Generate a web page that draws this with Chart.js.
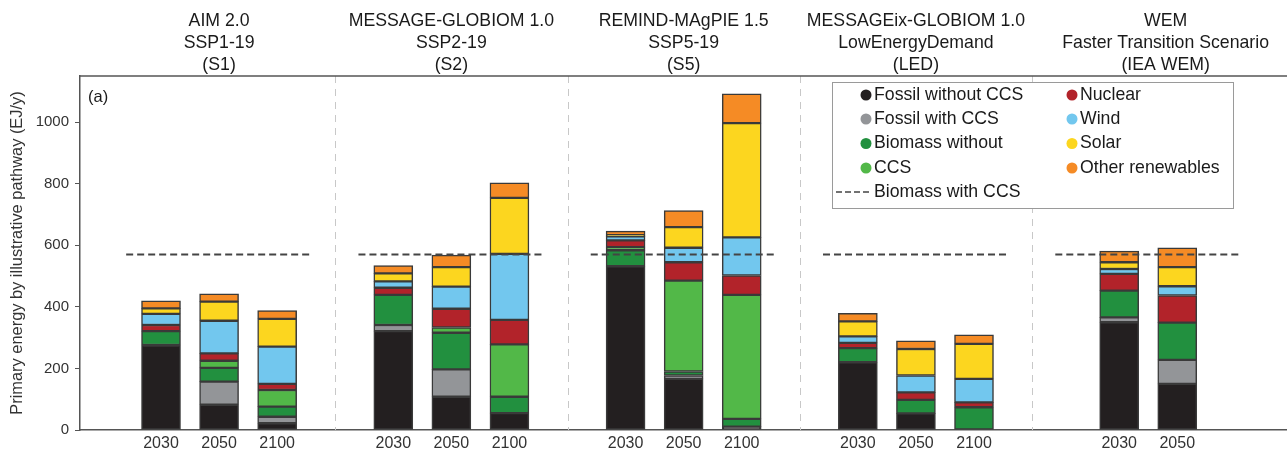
<!DOCTYPE html>
<html>
<head>
<meta charset="utf-8">
<script src="https://cdn.jsdelivr.net/npm/chart.js@4.4.1/dist/chart.umd.min.js"></script>
<style>
  html, body { margin: 0; padding: 0; background: #fff; }
  #wrap { width: 1287px; height: 453px; }
</style>
</head>
<body>
<div id="wrap"><canvas id="energy-chart"></canvas></div>
<script>
  const models = ['AIM 2.0', 'MESSAGE-GLOBIOM 1.0', 'REMIND-MAgPIE 1.5', 'MESSAGEix-GLOBIOM 1.0', 'WEM'];
  const scenarios = ['SSP1-19', 'SSP2-19', 'SSP5-19', 'LowEnergyDemand', 'Faster Transition Scenario'];
  const shortNames = ['(S1)', '(S2)', '(S5)', '(LED)', '(IEA WEM)'];
  const pathwayYears = [
    ['2030', '2050', '2100'],
    ['2030', '2050', '2100'],
    ['2030', '2050', '2100'],
    ['2030', '2050', '2100'],
    ['2030', '2050'],
  ];

  // EJ/y, one value per bar, pathway by pathway
  const fossil     = [276,  82,  22, 321, 108,  55, 532, 166,  11, 220,  54,   0, 350, 150];
  const fossilCcs  = [  0,  75,  21,  20,  89,   0,   0,  11,   0,   0,   0,   0,  16,  78];
  const bioNoCcs   = [ 45,  45,  33,  98, 119,  53,  52,  13,  25,  46,  44,  74,  87, 121];
  const bioCcs     = [  0,  23,  54,   0,  17, 170,  10, 295, 403,   0,   0,   0,   0,   0];
  const nuclear    = [ 20,  24,  20,  23,  61,  80,  22,  60,  63,  17,  24,  16,  54,  88];
  const wind       = [ 36, 106, 121,  21,  72, 214,  13,  47, 124,  21,  55,  76,  16,  30];
  const solar      = [ 18,  62,  90,  26,  63, 182,   4,  67, 371,  49,  86, 114,  22,  62];
  const otherRen   = [ 25,  25,  27,  25,  39,  49,  13,  54,  95,  26,  27,  29,  36,  63];
  const bioCcsLine = [570, 570, 570, 570, 570];

  const yTicks = [0, 200, 400, 600, 800, 1000];

  const FONT = "'Liberation Sans', Arial, sans-serif";

  // each pathway takes 4 slots on the x axis, separators sit between them
  const slotX = [];
  const tickText = {};
  const groupCenter = [];
  pathwayYears.forEach((ys, g) => {
    const c = 4 * g + 1;
    groupCenter.push(c);
    ys.forEach((y, i) => {
      const x = c + i - (ys.length - 1) / 2;
      slotX.push(x);
      tickText[x] = y;
    });
  });

  function toPoints(values) {
    return values.map((v, i) => ({ x: slotX[i], y: v === 0 ? null : v }));
  }

  const refPoints = [];
  bioCcsLine.forEach((v, g) => {
    const c = groupCenter[g];
    refPoints.push({ x: c - 1.6, y: v }, { x: c + 1.6, y: v }, { x: c + 1.8, y: null });
  });

  const series = [
    ['Fossil without CCS', fossil, '#231f20'],
    ['Fossil with CCS', fossilCcs, '#939598'],
    ['Biomass without', bioNoCcs, '#22903f'],
    ['CCS', bioCcs, '#52b848'],
    ['Nuclear', nuclear, '#b2232a'],
    ['Wind', wind, '#72c7ee'],
    ['Solar', solar, '#fcd61f'],
    ['Other renewables', otherRen, '#f58b25'],
  ];

  const barSets = series.map(([label, values, color]) => ({
    type: 'bar',
    label: label,
    data: toPoints(values),
    backgroundColor: color,
    borderColor: '#3a3a3a',
    borderWidth: 1.5,
    borderSkipped: false,
    barThickness: 39,
  }));

  const lineSet = {
    type: 'line',
    label: 'Biomass with CCS',
    data: refPoints,
    borderColor: '#444',
    borderWidth: 2,
    borderDash: [7, 4],
    pointRadius: 0,
    spanGaps: false,
    stack: 'ref',
    order: -1,
  };

  const decor = {
    id: 'decor',
    beforeDatasetsDraw(chart) {
      const { ctx, chartArea, scales: { x } } = chart;
      ctx.save();
      ctx.strokeStyle = '#c8c8c8';
      ctx.lineWidth = 1;
      ctx.setLineDash([7, 6]);
      for (let g = 1; g < groupCenter.length; g++) {
        const px = Math.round(x.getPixelForValue(4 * g - 1)) + 0.5;
        ctx.beginPath();
        ctx.moveTo(px, chartArea.top);
        ctx.lineTo(px, chartArea.bottom);
        ctx.stroke();
      }
      ctx.restore();
    },
    afterDraw(chart) {
      const { ctx, chartArea, scales: { x } } = chart;
      ctx.save();

      // frame line along the top
      ctx.strokeStyle = '#555';
      ctx.lineWidth = 1.5;
      ctx.beginPath();
      ctx.moveTo(chartArea.left, chartArea.top);
      ctx.lineTo(chart.width, chartArea.top);
      ctx.stroke();

      // pathway titles
      ctx.fillStyle = '#1a1a1a';
      ctx.font = '17.7px ' + FONT;
      ctx.textAlign = 'center';
      ctx.textBaseline = 'middle';
      groupCenter.forEach((c, g) => {
        const shift = g === groupCenter.length - 1 ? 0.3 : 0;
        const px = x.getPixelForValue(c + shift);
        ctx.fillText(models[g], px, 21);
        ctx.fillText(scenarios[g], px, 43);
        ctx.fillText(shortNames[g], px, 65);
      });

      ctx.textAlign = 'left';
      ctx.font = '16.5px ' + FONT;
      ctx.fillText('(a)', chartArea.left + 8, chartArea.top + 21);

      // legend box
      const bx = 832, by = 82, bw = 401, bh = 126;
      ctx.fillStyle = '#fff';
      ctx.fillRect(bx, by, bw, bh);
      ctx.strokeStyle = '#9a9a9a';
      ctx.lineWidth = 1;
      ctx.strokeRect(bx + 0.5, by + 0.5, bw, bh);

      ctx.font = '17.7px ' + FONT;
      const rows = [95, 119, 143.5, 168, 192];
      const cols = [866, 1072];
      const sets = chart.data.datasets.filter(d => d.type === 'bar');
      sets.forEach((d, i) => {
        const col = Math.floor(i / 4), row = i % 4;
        const cx = cols[col], cy = rows[row];
        ctx.fillStyle = d.backgroundColor;
        ctx.beginPath();
        ctx.arc(cx, cy, 5.5, 0, Math.PI * 2);
        ctx.fill();
        ctx.fillStyle = '#1a1a1a';
        ctx.fillText(d.label, cx + 8, cy);
      });
      ctx.strokeStyle = '#444';
      ctx.lineWidth = 1.5;
      ctx.setLineDash([6, 3]);
      ctx.beginPath();
      ctx.moveTo(836, rows[4]);
      ctx.lineTo(871, rows[4]);
      ctx.stroke();
      ctx.setLineDash([]);
      ctx.fillStyle = '#1a1a1a';
      ctx.fillText(lineSet.label, 874, rows[4]);

      ctx.restore();
    }
  };

  const config = {
    type: 'bar',
    data: { datasets: [...barSets, lineSet] },
    options: {
      responsive: true,
      maintainAspectRatio: false,
      animation: false,
      layout: { padding: { top: 76, right: 0, left: 0, bottom: 0 } },
      scales: {
        x: {
          type: 'linear',
          stacked: true,
          offset: false,
          min: -1.395,
          max: 19.39,
          afterBuildTicks: (scale) => {
            scale.ticks = slotX.map(v => ({ value: v }));
          },
          afterFit: (scale) => { scale.height = 23; },
          ticks: {
            autoSkip: false,
            maxRotation: 0,
            padding: 4,
            color: '#333',
            font: { family: FONT, size: 16 },
            callback: (v) => tickText[v] || '',
          },
          grid: { offset: false, drawOnChartArea: false, drawTicks: false },
          border: { display: true, color: '#555', width: 1.5 },
        },
        y: {
          stacked: true,
          min: 0,
          max: 1150,
          afterBuildTicks: (scale) => {
            scale.ticks = yTicks.map(v => ({ value: v }));
          },
          afterFit: (scale) => { scale.width = 80; },
          ticks: {
            padding: 6,
            color: '#333',
            font: { family: FONT, size: 15 },
            callback: (v) => String(v),
          },
          grid: { drawOnChartArea: false, drawTicks: true, tickLength: 5, color: '#555' },
          border: { display: true, color: '#555', width: 1.5 },
          title: {
            display: true,
            text: 'Primary energy by illustrative pathway (EJ/y)',
            color: '#333',
            font: { family: FONT, size: 16.4 },
            padding: { top: 8, bottom: 0 },
          },
        },
      },
      plugins: {
        legend: { display: false },
        tooltip: { enabled: false },
      },
    },
    plugins: [decor],
  };

  const energyChart = new Chart(document.getElementById('energy-chart'), config);
</script>
</body>
</html>
